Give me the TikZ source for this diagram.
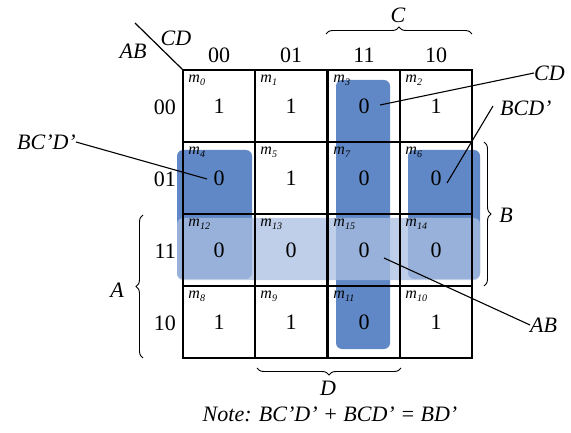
\documentclass[tikz,border=0pt]{standalone}
\usepackage{fontspec}
\setmainfont{Liberation Serif}
\usetikzlibrary{decorations.pathreplacing}
\definecolor{kblue}{RGB}{96,136,198}
\definecolor{klight}{RGB}{170,192,226}
\newcommand\mlab[1]{\textit{m}\raisebox{-3pt}{\fontsize{10}{10}\selectfont\itshape #1}}
\begin{document}
\begin{tikzpicture}[x=1pt,y=-1pt,
  big/.style={font=\fontsize{22}{24}\selectfont, inner sep=0pt},
  bigit/.style={font=\fontsize{22}{24}\selectfont\itshape, inner sep=0pt},
  cell/.style={draw, line width=1.5pt, minimum size=72pt, inner sep=0pt, font=\fontsize{22}{24}\selectfont},
  mlabel/.style={anchor=west, inner sep=0pt, font=\fontsize{16}{16}\selectfont},
  grp/.style={fill=kblue, rounded corners=6pt},
  band/.style={fill=klight, fill opacity=0.75, rounded corners=6pt},
  conn/.style={line width=1.1pt},
  brc/.style={decorate, decoration={brace, amplitude=7pt}, line width=0.9pt}
]
\useasboundingbox (0,0) rectangle (571,433);
\fill[white] (0,0) rectangle (571,433);
% groups
\fill[grp] (336,80) rectangle (390,349);
\fill[grp] (177,150) rectangle (252,279);
\fill[grp] (408,150) rectangle (480,279);
\fill[band] (177,218) rectangle (480,280);
% cells
\node[cell] (c00) at (219,106) {1};
\node[cell] (c01) at (291,106) {1};
\node[cell] (c03) at (364,106) {0};
\node[cell] (c02) at (436,106) {1};
\node[cell] (c10) at (219,178) {0};
\node[cell] (c11) at (291,178) {1};
\node[cell] (c13) at (364,178) {0};
\node[cell] (c12) at (436,178) {0};
\node[cell] (c30) at (219,250) {0};
\node[cell] (c31) at (291,250) {0};
\node[cell] (c33) at (364,250) {0};
\node[cell] (c32) at (436,250) {0};
\node[cell] (c20) at (219,322) {1};
\node[cell] (c21) at (291,322) {1};
\node[cell] (c23) at (364,322) {0};
\node[cell] (c22) at (436,322) {1};
% minterm labels
\foreach \c/\m in {c00/0,c01/1,c03/3,c02/2,c10/4,c11/5,c13/7,c12/6,c30/12,c31/13,c33/15,c32/14,c20/8,c21/9,c23/11,c22/10}{
  \node[mlabel] at ([xshift=6pt,yshift=-11pt]\c.north west) {\mlab{\m}};
}
% headers
\node[big] (h0) at (219,55) {00};
\node[big] (h1) at (291,55) {01};
\node[big] (h3) at (364,55) {11};
\node[big] (h2) at (436,55) {10};
\node[big, anchor=east] (r0) at (176,107) {00};
\node[big, anchor=east] (r1) at (176,179) {01};
\node[big, anchor=east] (r3) at (176,251) {11};
\node[big, anchor=east] (r2) at (176,323) {10};
\node[bigit] (lAB) at (133,51) {AB};
\node[bigit] (lCD) at (176,38) {CD};
\coordinate (dg1) at (135,23);
\draw[line width=1.2pt] (dg1) -- (c00.north west);
% braces
\coordinate (bC1) at (326,34); \coordinate (bC2) at (472,34);
\draw[brc] (bC1) -- (bC2);
\node[bigit] (lC) at (398,15) {C};
\coordinate (bD1) at (401,368); \coordinate (bD2) at (257,368);
\draw[brc] (bD1) -- (bD2);
\node[bigit] (lD) at (328,388) {D};
\coordinate (bA1) at (143,358); \coordinate (bA2) at (143,215);
\draw[brc] (bA1) -- (bA2);
\node[bigit] (lA) at (117,290) {A};
\coordinate (bB1) at (484,142); \coordinate (bB2) at (484,286);
\draw[brc] (bB1) -- (bB2);
\node[bigit] (lB) at (506,215) {B};
% group labels and connectors
\node[bigit, anchor=west] (gCD) at (534,73) {CD};
\coordinate (pCD) at (380,105);
\draw[conn] (pCD) -- (gCD.west);
\node[bigit, anchor=west] (gBCD) at (500,108) {BCD'};
\coordinate (pBCD) at (447,183);
\draw[conn] (pBCD) -- (493,106);
\node[bigit, anchor=east] (gBCpD) at (76,142) {BC'D'};
\coordinate (pBCpD) at (207,179);
\draw[conn] (gBCpD.east) -- (pBCpD);
\node[bigit, anchor=west] (gAB) at (530,325) {AB};
\coordinate (pAB) at (384,258);
\draw[conn] (pAB) -- (gAB.west);
% note
\node[bigit] (note) at (330,414) {Note: BC'D' + BCD' = BD'};
\end{tikzpicture}
\end{document}
